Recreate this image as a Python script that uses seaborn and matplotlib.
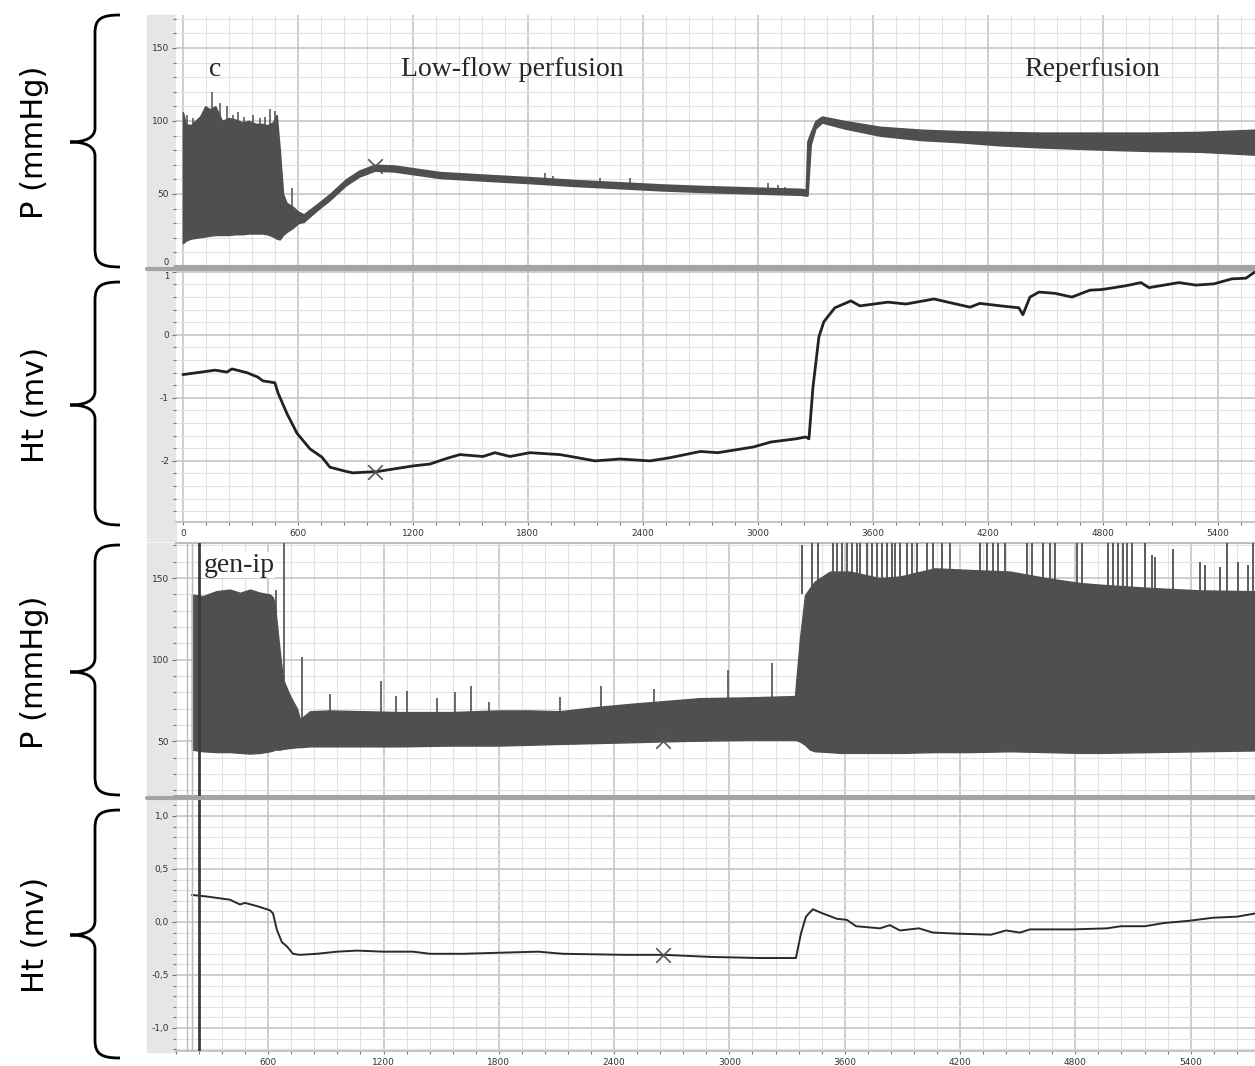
import numpy as np
import matplotlib
matplotlib.use('Agg')
import matplotlib.pyplot as plt
from matplotlib.path import Path
from matplotlib.patches import PathPatch, Rectangle
from matplotlib.lines import Line2D
from matplotlib.ticker import MultipleLocator, FuncFormatter
import seaborn as sns

# ---- panel 1: pressure, control ("c") : band envelope (s, mmHg)
p1_t = [0, 14, 40, 65, 90, 117, 140, 169, 204, 240, 273, 310, 342, 380, 412, 440, 470, 489, 505, 522,
        540, 575, 600, 630, 700, 767, 850, 920, 1000, 1100, 1340, 1600, 1810, 2050, 2280, 2500, 2700,
        2950, 3220, 3250, 3258, 3275, 3300, 3334, 3450, 3636, 3850, 4054, 4250, 4470, 4784, 5050, 5306, 5593]
p1_hi = [106, 98, 97, 100, 103, 110, 108, 110, 100, 102, 101, 99, 100, 98, 98, 97, 99, 104, 80, 50,
         44, 41, 38, 36, 43, 50, 60, 66, 70, 69.5, 65, 63, 61.5, 59.5, 58, 56.5, 55.5,
         54.5, 53.5, 53, 86, 92, 100, 103, 100, 96, 94, 93, 92.5, 92, 92, 92, 92.5, 94]
p1_lo = [16.4, 18, 19.5, 20, 20.5, 21, 21.5, 22, 22, 22, 22.5, 22.5, 23, 23, 23, 22.5, 21, 19.5, 19, 22,
         24, 27, 30, 31, 39, 46, 56, 62, 66, 65.5, 61, 59, 57.5, 55.5, 54, 52.5, 51.5,
         50.5, 49.5, 49, 49, 84, 95, 99, 95, 90, 87, 85.5, 83.5, 82, 80.5, 79.5, 79, 77]
p1_spk_t = [20, 55, 105, 130, 151, 175, 193, 230, 262, 287, 320, 365, 400, 430, 454, 480, 569,
            1890, 1930, 2175, 2332, 3052, 3104, 3140]
p1_spk_lo = [60, 60, 60, 60, 60, 60, 60, 60, 60, 60, 60, 60, 60, 60, 60, 60, 40,
             58, 58, 55, 55, 52, 52, 51]
p1_spk_hi = [104, 102, 106, 108, 120, 109, 112, 110, 104, 106, 103, 104, 102, 103, 108, 107, 54,
             64.5, 62.5, 61, 61, 57.5, 56.5, 55]

# ---- panel 2: Ht, control (mV)
p2_t = [0, 73, 167, 230, 256, 334, 391, 417, 480, 496, 543, 595, 663, 725, 767, 855, 887, 1012, 1096, 1200,
        1289, 1377, 1445, 1565, 1628, 1706, 1810, 1967, 2060, 2150, 2280, 2437, 2540, 2700, 2790, 2975,
        3068, 3198, 3250, 3266, 3287, 3318, 3344, 3401, 3485, 3532, 3678, 3772, 3918, 4106, 4158, 4268,
        4361, 4382, 4419, 4466, 4549, 4638, 4732, 4795, 4920, 4998, 5040, 5196, 5285, 5379, 5473, 5546, 5593]
p2_v = [-0.63, -0.6, -0.56, -0.59, -0.54, -0.6, -0.67, -0.73, -0.76, -0.92, -1.25, -1.56, -1.81, -1.94,
        -2.1, -2.17, -2.19, -2.17, -2.13, -2.08, -2.05, -1.96, -1.9, -1.93, -1.87, -1.93, -1.87, -1.9,
        -1.95, -2.0, -1.97, -2.0, -1.95, -1.85, -1.87, -1.78, -1.70, -1.65, -1.62, -1.65, -0.83, -0.03,
        0.21, 0.43, 0.54, 0.46, 0.52, 0.49, 0.57, 0.44, 0.5, 0.46, 0.43, 0.32, 0.6, 0.68, 0.66, 0.6,
        0.71, 0.72, 0.78, 0.83, 0.75, 0.83, 0.79, 0.81, 0.89, 0.9, 1.0]

# ---- panel 3: pressure, gen-ip
p3_t = [203, 260, 330, 400, 453, 505, 560, 609, 625, 635, 660, 677, 713, 750, 765, 817, 921, 1100, 1285,
        1545, 1800, 1962, 2118, 2300, 2482, 2638, 2846, 3100, 3341, 3367, 3393, 3419, 3445, 3523, 3575,
        3627, 3783, 3888, 4070, 4250, 4460, 4650, 4824, 4928, 5188, 5449, 5735]
p3_hi = [140, 139, 142, 143, 141, 143, 141, 140, 138, 133, 105, 88, 78, 70, 63.5, 68.5, 69, 68.5, 68,
         68, 69, 69, 68.5, 71, 73, 74.5, 76.5, 77, 77.8, 113, 139.5, 144, 148, 154, 154,
         154, 150, 151, 156, 155, 154, 150, 147, 146, 144, 142.5, 142]
p3_lo = [45, 44, 43.5, 43.5, 43, 42.6, 43, 44, 44.5, 45, 45, 45.5, 46, 46.5, 46.5, 47, 47, 47, 47,
         47.5, 47.5, 48, 48.5, 49, 49.5, 50, 50.5, 51, 51, 50, 48, 45, 44, 43.5, 43,
         43, 43, 43, 43.5, 43.5, 44, 43.5, 43, 43, 43.5, 44, 44.5]
p3_spk_t = [640, 680, 775, 921, 1186, 1264, 1322, 1478, 1572, 1655, 1749, 2118, 2331, 2607, 2992, 3221]
p3_spk_lo = [120, 60, 60, 60, 60, 60, 60, 60, 60, 60, 60, 60, 60, 60, 60, 60]
p3_spk_hi = [143, 175, 102, 79, 87, 78, 81, 76.5, 80, 84, 74, 77, 84, 82, 94, 98]
p3_rep_t = [3377, 3429, 3461, 3539, 3560, 3586, 3612, 3638, 3664, 3679, 3716, 3742, 3768, 3794, 3820,
            3846, 3861, 3887, 3924, 3950, 3976, 4028, 4059, 4106, 4148, 4304, 4340, 4371, 4397, 4434,
            4548, 4574, 4632, 4668, 4694, 4808, 4835, 4970, 4996, 5022, 5048, 5069, 5095, 5162, 5199,
            5214, 5308, 5449, 5475, 5553, 5589, 5646, 5698, 5724]
p3_rep_hi = [170, 173, 175, 175, 175, 175, 175, 175, 175, 175, 175, 175, 175, 175, 175,
             175, 175, 175, 175, 175, 175, 175, 175, 175, 175, 175, 175, 175, 175, 175,
             175, 175, 175, 175, 175, 175, 175, 175, 175, 175, 175, 175, 175, 175, 164,
             163, 168, 160, 158, 157, 175, 160, 158, 175]
p3_rep_lo = 140

# ---- panel 4: Ht, gen-ip
p4_t = [203, 281, 401, 453, 479, 541, 609, 625, 645, 671, 697, 729, 765, 853, 958, 1062, 1197, 1353, 1442,
        1613, 1806, 2005, 2133, 2456, 2660, 2909, 3159, 3346, 3372, 3398, 3434, 3486, 3560, 3611, 3659,
        3783, 3835, 3887, 3986, 4059, 4184, 4361, 4439, 4512, 4564, 4788, 4965, 5037, 5162, 5261, 5386,
        5516, 5641, 5735]
p4_v = [0.255, 0.24, 0.21, 0.165, 0.18, 0.15, 0.11, 0.08, -0.075, -0.19, -0.23, -0.3, -0.31, -0.3, -0.28,
        -0.27, -0.28, -0.28, -0.3, -0.3, -0.29, -0.28, -0.3, -0.31, -0.31, -0.33, -0.34, -0.34, -0.11,
        0.05, 0.12, 0.08, 0.03, 0.02, -0.04, -0.06, -0.03, -0.08, -0.06, -0.1, -0.11, -0.12, -0.08, -0.1,
        -0.07, -0.07, -0.06, -0.04, -0.04, -0.01, 0.01, 0.04, 0.05, 0.08]

# cursor marks (x) and event lines
mark_top = [(1000, 69), (1000, -2.17)]
mark_bot = [(2654, 50), (2654, -0.31)]
event_light = [177, 203]
event_dark = 239

W, H = 1255, 1066
TRACE = '#4f4f4f'


def px_rect(left, top, right, bottom):
    return [left / W, 1 - bottom / H, (right - left) / W, (bottom - top) / H]


sns.set_theme(style='white')
plt.rcParams['font.family'] = ['DejaVu Sans']
plt.rcParams['axes.unicode_minus'] = False

fig = plt.figure(figsize=(W / 100, H / 100), dpi=100)

ax1 = fig.add_axes(px_rect(176, 15, 1255, 267))
ax2 = fig.add_axes(px_rect(176, 270, 1255, 522))
ax3 = fig.add_axes(px_rect(176, 543, 1255, 797))
ax4 = fig.add_axes(px_rect(176, 799, 1255, 1051))

# grey strips on the left of each channel
for top, bot in [(15, 267), (270, 541), (543, 797), (799, 1052)]:
    fig.patches.append(Rectangle((147 / W, 1 - bot / H), 29 / W, (bot - top) / H,
                                 transform=fig.transFigure, color='#e6e6e6', zorder=-1))


def style_axes(ax, xlim, ylim, ymaj, ymin, xlabels):
    ax.set_xlim(*xlim)
    ax.set_ylim(*ylim)
    ax.xaxis.set_major_locator(MultipleLocator(600))
    ax.xaxis.set_minor_locator(MultipleLocator(120))
    ax.yaxis.set_major_locator(MultipleLocator(ymaj))
    ax.yaxis.set_minor_locator(MultipleLocator(ymin))
    ax.grid(which='major', color='#c6c6c6', lw=1.2)
    ax.grid(which='minor', color='#e2e2e2', lw=0.8)
    ax.set_axisbelow(True)
    for s in ['left', 'right', 'top']:
        ax.spines[s].set_visible(False)
    ax.spines['bottom'].set_color('#bdbdbd')
    ax.tick_params(axis='y', which='both', left=True, direction='out', length=3, width=0.8,
                   color='#777777', labelsize=6.5, labelcolor='#333333', pad=2)
    ax.tick_params(axis='y', which='minor', length=2)
    ax.tick_params(axis='x', which='both', bottom=xlabels, direction='out', length=2, width=0.8,
                   color='#777777', labelbottom=xlabels, labelsize=6.5, labelcolor='#333333', pad=3)
    ax.set_xlabel('')
    ax.set_ylabel('')


# panel 1
ax1.fill_between(p1_t, p1_lo, p1_hi, color=TRACE, lw=1.2, zorder=3)
ax1.vlines(p1_spk_t, p1_spk_lo, p1_spk_hi, color=TRACE, lw=1.1, zorder=3)
style_axes(ax1, (-36, 5593), (0, 172.6), 50, 10, False)
ax1.spines['bottom'].set_color('#a4a4a4')
ax1.spines['bottom'].set_linewidth(3)

# panel 2
sns.lineplot(x=p2_t, y=p2_v, ax=ax2, color='#222222', lw=2.0, zorder=3)
style_axes(ax2, (-36, 5593), (-2.97, 1.03), 1, 0.2, True)

# panel 3
ax3.fill_between(p3_t, p3_lo, p3_hi, color=TRACE, lw=1.0, zorder=3)
ax3.vlines(p3_spk_t, p3_spk_lo, p3_spk_hi, color=TRACE, lw=1.2, zorder=3)
ax3.vlines(p3_rep_t, p3_rep_lo, p3_rep_hi, color=TRACE, lw=1.3, zorder=3)
style_axes(ax3, (120, 5735), (16, 171.5), 50, 10, False)
ax3.spines['bottom'].set_color('#a4a4a4')
ax3.spines['bottom'].set_linewidth(3)
ax3.spines['top'].set_visible(True)
ax3.spines['top'].set_color('#bdbdbd')
ax3.spines['top'].set_linewidth(1.5)

# panel 4
sns.lineplot(x=p4_t, y=p4_v, ax=ax4, color='#2a2a2a', lw=1.4, zorder=3)
style_axes(ax4, (120, 5735), (-1.217, 1.16), 0.5, 0.1, True)
ax4.yaxis.set_major_formatter(FuncFormatter(lambda v, p: f'{round(v, 1) + 0.0:.1f}'.replace('.', ',')))

for ax in (ax3, ax4):
    ax.vlines(event_light, 0, 1, transform=ax.get_xaxis_transform(), color='#bbbbbb', lw=1.0, zorder=4)
    ax.axvline(event_dark, color='#3a3a3a', lw=2.0, zorder=4)

for ax, (mx, my) in zip((ax1, ax2), mark_top):
    sns.scatterplot(x=[mx], y=[my], ax=ax, marker='x', s=110, color='#555555', linewidth=1.2, zorder=6)
for ax, (mx, my) in zip((ax3, ax4), mark_bot):
    sns.scatterplot(x=[mx], y=[my], ax=ax, marker='x', s=110, color='#555555', linewidth=1.2, zorder=6)
for ax in (ax1, ax2, ax3, ax4):
    ax.set_xlabel('')
    ax.set_ylabel('')

# phase labels
serif = ['Liberation Serif', 'DejaVu Serif']
ax1.text(167, 135, 'c', family=serif, fontsize=20, ha='center', va='center', zorder=7)
ax1.text(1716, 135, 'Low-flow perfusion', family=serif, fontsize=20, ha='center', va='center', zorder=7)
ax1.text(4742, 135, 'Reperfusion', family=serif, fontsize=20, ha='center', va='center', zorder=7)
ax3.text(262, 158, 'gen-ip', family=serif, fontsize=20, ha='left', va='center', zorder=7,
         bbox=dict(facecolor='white', edgecolor='none', pad=0.5))

# thick dividers across the strip
for y in (268.5, 798):
    fig.add_artist(Line2D([147 / W, 1], [1 - y / H, 1 - y / H], color='#a4a4a4', lw=3,
                          transform=fig.transFigure))

# braces and channel labels in figure pixels
ov = fig.add_axes([0, 0, 1, 1], facecolor='none')
ov.set_xlim(0, W)
ov.set_ylim(H, 0)
ov.axis('off')


def brace(top, tip, bot, xs=95, xt=70, xe=120):
    verts = [(xe, top), (xs + 6, top), (xs, top + 4), (xs, top + 18),
             (xs, tip - 14),
             (xs, tip - 4), (xs - 10, tip), (xt, tip),
             (xs - 10, tip), (xs, tip + 4), (xs, tip + 14),
             (xs, bot - 18),
             (xs, bot - 4), (xs + 6, bot), (xe, bot)]
    codes = [Path.MOVETO, Path.CURVE4, Path.CURVE4, Path.CURVE4,
             Path.LINETO,
             Path.CURVE4, Path.CURVE4, Path.CURVE4,
             Path.CURVE4, Path.CURVE4, Path.CURVE4,
             Path.LINETO,
             Path.CURVE4, Path.CURVE4, Path.CURVE4]
    ov.add_patch(PathPatch(Path(verts, codes), facecolor='none', edgecolor='black', lw=2))


channels = [('P (mmHg)', 15, 142, 267), ('Ht (mv)', 282, 405, 525),
            ('P (mmHg)', 545, 672, 795), ('Ht (mv)', 810, 935, 1058)]
for lab, top, tip, bot in channels:
    brace(top, tip, bot)
    ov.text(35, tip, lab, rotation=90, ha='center', va='center', fontsize=22, color='black')

# the "0" of the top channel and the "1" of the next one sit on the divider: nudge apart
fig.canvas.draw()
for lbl in ax1.get_yticklabels():
    if lbl.get_text() == '0':
        lbl.set_va('bottom')
        lbl.set_fontsize(6)
for lbl in ax2.get_yticklabels():
    if lbl.get_text() == '1':
        lbl.set_va('top')
        lbl.set_fontsize(6)

fig.savefig('out.png', dpi=100)
